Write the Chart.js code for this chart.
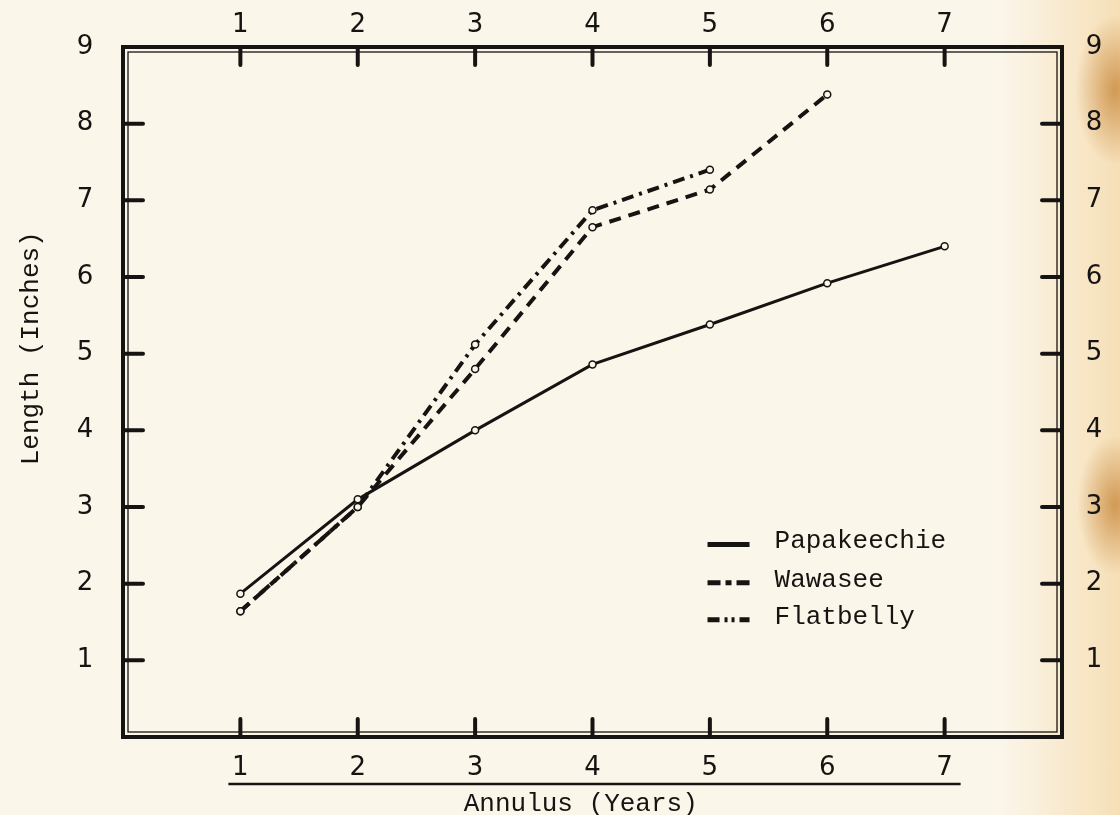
<!DOCTYPE html>
<html>
<head>
<meta charset="utf-8">
<script src="https://cdn.jsdelivr.net/npm/chart.js@4.4.1/dist/chart.umd.min.js"></script>
<style>
  html, body { margin: 0; padding: 0; }
  body {
    width: 1120px; height: 815px; overflow: hidden;
    background:
      radial-gradient(ellipse 40px 75px at 1115px 90px, rgba(190,115,30,0.65), rgba(190,115,30,0) 100%),
      radial-gradient(ellipse 38px 70px at 1115px 505px, rgba(190,115,30,0.65), rgba(190,115,30,0) 100%),
      linear-gradient(to right, rgba(240,195,120,0) 1000px, rgba(240,195,120,0.45) 1120px),
      #fbf6ea;
  }
  canvas { display: block; }
</style>
</head>
<body>
<canvas id="chart" width="1120" height="815"></canvas>
<script>
// annulus (years) and lengths (inches)
const years = [1, 2, 3, 4, 5, 6, 7]
const lengthTicks = [1, 2, 3, 4, 5, 6, 7, 8, 9]
const papakeechie = [1.87, 3.1, 4.0, 4.86, 5.38, 5.92, 6.4]
const wawasee = [1.64, 3.0, 4.8, 6.65, 7.14, 8.38]
const flatbelly = [1.64, 3.0, 5.12, 6.87, 7.4]
const seriesNames = ['Papakeechie', 'Wawasee', 'Flatbelly']
const xTitle = 'Annulus (Years)'
const yTitle = 'Length (Inches)'

const ink = '#161412'
const paper = '#fbf6ea'
const numFont = '26px "DejaVu Sans"'
const typeFont = '26px "Liberation Mono"'

function pts(vals) {
    return vals.map((v, i) => ({ x: years[i], y: v }))
}

function lineSet(label, vals, dash, width) {
    return {
        label: label,
        data: pts(vals),
        borderColor: ink,
        borderWidth: width,
        borderDash: dash,
        pointRadius: 3.5,
        pointBorderWidth: 1.5,
        pointBorderColor: ink,
        pointBackgroundColor: paper,
        tension: 0,
        fill: false
    }
}

// frame, inward ticks, labels, titles and legend drawn off the chart's scales
const framePlugin = {
    id: 'frame',
    afterDraw(chart) {
        const ctx = chart.ctx
        const a = chart.chartArea
        const xs = chart.scales.x
        const ys = chart.scales.y
        ctx.save()
        ctx.strokeStyle = ink
        ctx.fillStyle = ink

        // double-line border
        ctx.lineWidth = 4
        ctx.strokeRect(a.left, a.top, a.right - a.left, a.bottom - a.top)
        ctx.lineWidth = 1.3
        ctx.strokeRect(a.left + 5, a.top + 5, a.right - a.left - 10, a.bottom - a.top - 10)

        // x ticks, top and bottom
        ctx.lineWidth = 4
        ctx.lineCap = 'round'
        years.forEach(v => {
            const px = xs.getPixelForValue(v)
            ctx.beginPath()
            ctx.moveTo(px, a.top)
            ctx.lineTo(px, a.top + 18)
            ctx.moveTo(px, a.bottom)
            ctx.lineTo(px, a.bottom - 18)
            ctx.stroke()
        })
        // y ticks, left and right
        lengthTicks.forEach(v => {
            if (v >= ys.max) return
            const py = ys.getPixelForValue(v)
            ctx.beginPath()
            ctx.moveTo(a.left, py)
            ctx.lineTo(a.left + 20, py)
            ctx.moveTo(a.right, py)
            ctx.lineTo(a.right - 20, py)
            ctx.stroke()
        })

        // tick labels
        ctx.font = numFont
        ctx.textAlign = 'center'
        ctx.textBaseline = 'middle'
        years.forEach(v => {
            const px = xs.getPixelForValue(v)
            ctx.fillText(String(v), px, a.top - 22)
            ctx.fillText(String(v), px, a.bottom + 31)
        })
        lengthTicks.forEach(v => {
            const py = ys.getPixelForValue(v)
            ctx.fillText(String(v), a.left - 38, py)
            ctx.fillText(String(v), a.right + 32, py)
        })

        // underline below the bottom numbers
        ctx.lineWidth = 2.5
        ctx.lineCap = 'butt'
        ctx.beginPath()
        ctx.moveTo(xs.getPixelForValue(years[0]) - 12, a.bottom + 47)
        ctx.lineTo(xs.getPixelForValue(years[years.length - 1]) + 16, a.bottom + 47)
        ctx.stroke()

        // axis titles
        ctx.font = typeFont
        ctx.fillText(xTitle, xs.getPixelForValue(3.9), a.bottom + 67)
        ctx.save()
        ctx.translate(a.left - 92, ys.getPixelForValue(5.07))
        ctx.rotate(-Math.PI / 2)
        ctx.fillText(yTitle, 0, 0)
        ctx.restore()

        // legend
        const rows = [ys.getPixelForValue(2.55), ys.getPixelForValue(2.05), ys.getPixelForValue(1.57)]
        const x0 = xs.getPixelForValue(4.98)
        ctx.textAlign = 'left'
        chart.data.datasets.forEach((d, i) => {
            ctx.lineWidth = 5
            ctx.setLineDash(i === 0 ? [] : (i === 1 ? [13, 5, 6, 5] : [12, 5, 3, 4, 3, 5]))
            ctx.beginPath()
            ctx.moveTo(x0, rows[i] + 3)
            ctx.lineTo(x0 + 42, rows[i] + 3)
            ctx.stroke()
            ctx.setLineDash([])
            ctx.fillText(d.label, x0 + 67, rows[i])
        })
        ctx.restore()
    }
}

const ctx = document.getElementById('chart').getContext('2d')
const chart = new Chart(ctx, {
    type: 'line',
    data: {
        datasets: [
            lineSet(seriesNames[0], papakeechie, [], 3),
            lineSet(seriesNames[1], wawasee, [12, 8], 4),
            lineSet(seriesNames[2], flatbelly, [12, 6, 3, 6], 4)
        ]
    },
    options: {
        responsive: false,
        animation: false,
        layout: { padding: { left: 123, right: 58, top: 47, bottom: 78 } },
        plugins: {
            legend: { display: false },
            tooltip: { enabled: false }
        },
        scales: {
            x: { type: 'linear', min: 0, max: 8, display: false },
            y: { type: 'linear', min: 0, max: 9, display: false }
        }
    },
    plugins: [framePlugin]
})
</script>
</body>
</html>
